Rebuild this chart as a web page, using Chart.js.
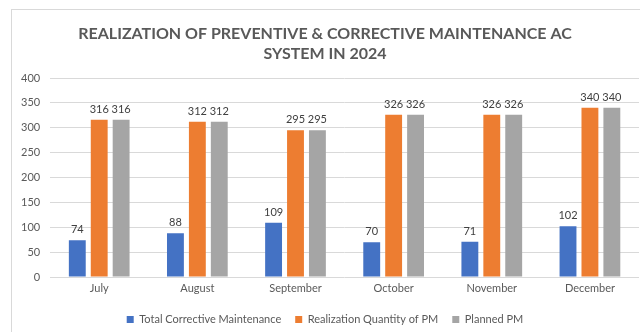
<!DOCTYPE html>
<html lang="en">
<head>
    <meta charset="UTF-8">
    <title>Maintenance AC System 2024</title>
    <script src="https://cdn.jsdelivr.net/npm/chart.js"></script>
    <style>
        * { box-sizing: border-box; }
        body { margin: 0; padding: 0; background: #ffffff; }
        .frame {
            position: absolute; left: 11px; top: 9px;
            width: 700px; height: 400px;
            border: 1px solid #d9d9d9;
        }
        .wrap { position: absolute; left: 0; top: 0; width: 640px; height: 332px; }
    </style>
</head>
<body>
    <div class="frame"></div>
    <div class="wrap"><canvas id="maintChart"></canvas></div>

    <script>
        const months = ['July', 'August', 'September', 'October', 'November', 'December'];
        const correctiveTotal = [74, 88, 109, 70, 71, 102];
        const pmRealized = [316, 312, 295, 326, 326, 340];
        const pmPlanned = [316, 312, 295, 326, 326, 340];
        const yTicks = [0, 50, 100, 150, 200, 250, 300, 350, 400];

        const FONT = "Lato, 'Open Sans', sans-serif";
        const TEXT = '#595959';

        // value labels above each bar
        const barValues = {
            id: 'barValues',
            afterDatasetsDraw(chart) {
                const ctx = chart.ctx;
                ctx.save();
                ctx.font = '11px ' + FONT;
                ctx.fillStyle = '#404040';
                ctx.textAlign = 'center';
                ctx.textBaseline = 'bottom';
                chart.data.datasets.forEach((ds, i) => {
                    chart.getDatasetMeta(i).data.forEach((bar, j) => {
                        ctx.fillText(String(ds.data[j]), bar.x, bar.y - 5);
                    });
                });
                ctx.restore();
            }
        };

        new Chart(document.getElementById('maintChart'), {
            type: 'bar',
            data: {
                labels: months,
                datasets: [
                    { label: 'Total Corrective Maintenance', data: correctiveTotal, backgroundColor: '#4472C4' },
                    { label: 'Realization Quantity of PM', data: pmRealized, backgroundColor: '#ED7D31' },
                    { label: 'Planned PM', data: pmPlanned, backgroundColor: '#A5A5A5' }
                ]
            },
            options: {
                responsive: true,
                maintainAspectRatio: false,
                animation: false,
                datasets: { bar: { categoryPercentage: 0.67, barPercentage: 0.77 } },
                layout: { padding: { left: 11, right: 1, top: 0, bottom: -3 } },
                plugins: {
                    title: {
                        display: true,
                        text: ['REALIZATION OF PREVENTIVE & CORRECTIVE MAINTENANCE AC', 'SYSTEM IN 2024'],
                        color: TEXT,
                        font: { family: FONT, size: 16, weight: 'bold', lineHeight: 1.25 },
                        padding: { top: 24, bottom: 14 }
                    },
                    legend: {
                        position: 'bottom',
                        labels: {
                            color: TEXT,
                            font: { family: FONT, size: 11, lineHeight: 1 },
                            boxWidth: 7, boxHeight: 7,
                            padding: 14
                        }
                    },
                    tooltip: { enabled: false }
                },
                scales: {
                    x: {
                        grid: { display: false, drawTicks: false },
                        border: { display: false },
                        ticks: { color: TEXT, font: { family: FONT, size: 11, lineHeight: 1 }, padding: 6 }
                    },
                    y: {
                        min: 0, max: 400,
                        afterBuildTicks: (axis) => { axis.ticks = yTicks.map(v => ({ value: v })); },
                        grid: { color: '#d9d9d9', drawTicks: false },
                        border: { display: false },
                        ticks: { color: TEXT, font: { family: FONT, size: 11 }, padding: 10 }
                    }
                }
            },
            plugins: [barValues]
        });
    </script>
</body>
</html>
